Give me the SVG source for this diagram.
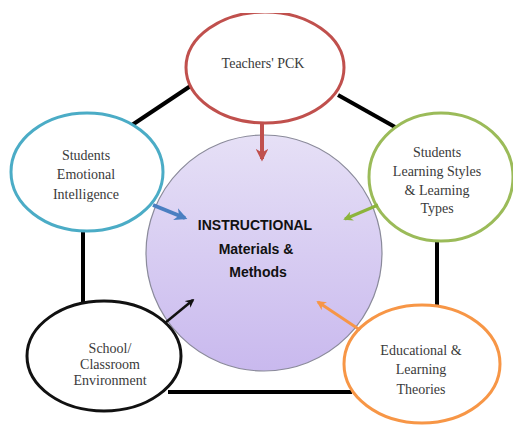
<svg xmlns="http://www.w3.org/2000/svg" width="513" height="425" viewBox="0 0 513 425">
<defs>
<linearGradient id="g" x1="0" y1="0" x2="0" y2="1">
<stop offset="0" stop-color="#e6e0f6"/>
<stop offset="1" stop-color="#c9b9ee"/>
</linearGradient>
<clipPath id="topclip"><rect x="0" y="13" width="513" height="412"/></clipPath>
<marker id="ar-red" viewBox="0 0 10 10" refX="8" refY="5" markerWidth="3.2" markerHeight="3.2" orient="auto" markerUnits="strokeWidth"><path d="M0,0 L10,5 L0,10 L3,5 z" fill="#c0504d"/></marker>
<marker id="ar-blue" viewBox="0 0 10 10" refX="8" refY="5" markerWidth="3.2" markerHeight="3.2" orient="auto" markerUnits="strokeWidth"><path d="M0,0 L10,5 L0,10 L3,5 z" fill="#4a7fc1"/></marker>
<marker id="ar-green" viewBox="0 0 10 10" refX="8" refY="5" markerWidth="3.2" markerHeight="3.2" orient="auto" markerUnits="strokeWidth"><path d="M0,0 L10,5 L0,10 L3,5 z" fill="#8cb43c"/></marker>
<marker id="ar-black" viewBox="0 0 10 10" refX="8" refY="5" markerWidth="3.5" markerHeight="3.5" orient="auto" markerUnits="strokeWidth"><path d="M0,0 L10,5 L0,10 L3,5 z" fill="#111"/></marker>
<marker id="ar-orange" viewBox="0 0 10 10" refX="8" refY="5" markerWidth="3.2" markerHeight="3.2" orient="auto" markerUnits="strokeWidth"><path d="M0,0 L10,5 L0,10 L3,5 z" fill="#f79646"/></marker>
</defs>
<style>
.node{fill:#fff;stroke-width:3}
.lbl{font-family:"Liberation Serif","Times New Roman",serif;font-size:14px;fill:#3a3a3a;text-anchor:middle}
.ctr{font-family:"Liberation Sans",Arial,sans-serif;font-size:14px;font-weight:bold;fill:#111;text-anchor:middle}
.link{stroke:#000;stroke-width:4;fill:none}
.arr{fill:none;stroke-linecap:butt}
</style>
<rect width="513" height="425" fill="#fff"/>
<g id="connectors">
<line class="link" x1="192" y1="85" x2="132" y2="125"/>
<line class="link" x1="338" y1="95" x2="395" y2="127"/>
<line class="link" x1="83" y1="230" x2="83" y2="304"/>
<line class="link" x1="437" y1="240" x2="437" y2="306"/>
<line class="link" x1="168" y1="392" x2="352" y2="392"/>
</g>
<g id="center">
<circle cx="264" cy="253" r="118" fill="url(#g)" stroke="#8a8a9a" stroke-width="1.2"/>
<text class="ctr" x="255" y="230">INSTRUCTIONAL</text>
<text class="ctr" x="256" y="254">Materials &amp;</text>
<text class="ctr" x="258" y="277">Methods</text>
</g>
<g id="teachers">
<ellipse class="node" cx="265" cy="67.5" rx="79" ry="55.5" stroke="#c0504d" clip-path="url(#topclip)"/>
<text class="lbl" x="263" y="68">Teachers' PCK</text>
</g>
<g id="emotional">
<ellipse class="node" cx="87" cy="172" rx="76" ry="59" stroke="#4bacc6"/>
<text class="lbl" x="86" y="160">Students</text>
<text class="lbl" x="86" y="179">Emotional</text>
<text class="lbl" x="86" y="199">Intelligence</text>
</g>
<g id="styles">
<ellipse class="node" cx="441" cy="177" rx="72" ry="64" stroke="#9bbb59"/>
<text class="lbl" x="437" y="157">Students</text>
<text class="lbl" x="437" y="176">Learning Styles</text>
<text class="lbl" x="437" y="195">&amp; Learning</text>
<text class="lbl" x="437" y="213">Types</text>
</g>
<g id="school">
<ellipse class="node" cx="104" cy="356" rx="77" ry="55" stroke="#111"/>
<text class="lbl" x="110" y="353">School/</text>
<text class="lbl" x="110" y="369">Classroom</text>
<text class="lbl" x="110" y="385">Environment</text>
</g>
<g id="theories">
<ellipse class="node" cx="422" cy="364" rx="78" ry="59" stroke="#f79646"/>
<text class="lbl" x="421" y="355">Educational &amp;</text>
<text class="lbl" x="421" y="374">Learning</text>
<text class="lbl" x="421" y="394">Theories</text>
</g>
<g id="arrows">
<line class="arr" x1="262" y1="124" x2="262" y2="159" stroke="#c0504d" stroke-width="4" marker-end="url(#ar-red)"/>
<line class="arr" x1="153" y1="205" x2="185" y2="218" stroke="#4a7fc1" stroke-width="4" marker-end="url(#ar-blue)"/>
<line class="arr" x1="378" y1="205" x2="345" y2="219" stroke="#8cb43c" stroke-width="3" marker-end="url(#ar-green)"/>
<line class="arr" x1="165" y1="323" x2="193" y2="300" stroke="#111" stroke-width="2.5" marker-end="url(#ar-black)"/>
<line class="arr" x1="360" y1="330" x2="318" y2="302" stroke="#f79646" stroke-width="3" marker-end="url(#ar-orange)"/>
</g>
</svg>
